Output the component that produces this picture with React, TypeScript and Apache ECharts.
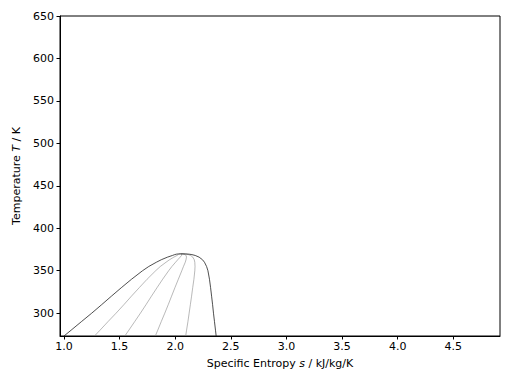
import React, { useEffect, useRef } from "react";
import * as echarts from "echarts";

// Saturation temperatures (K)
const temps = [273.15, 280, 290, 300, 310, 320, 330, 340, 350, 355, 360, 363, 366, 368, 369, 369.5, 369.8, 369.89];
// Saturated liquid entropy (kJ/kg/K)
const sLiquid = [1.0, 1.064, 1.156, 1.249, 1.338, 1.426, 1.515, 1.607, 1.706, 1.762, 1.83, 1.875, 1.93, 1.975, 1.995, 2.01, 2.03, 2.05];
// Saturated vapour entropy (kJ/kg/K)
const sVapour = [2.368, 2.362, 2.353, 2.344, 2.336, 2.327, 2.318, 2.308, 2.294, 2.282, 2.263, 2.245, 2.215, 2.18, 2.15, 2.125, 2.09, 2.05];
// Constant-quality lines
const sQ02 = [1.274, 1.324, 1.395, 1.468, 1.538, 1.606, 1.676, 1.747, 1.824, 1.866, 1.917, 1.949, 1.987, 2.016, 2.026, 2.033, 2.042, 2.05];
const sQ04 = [1.547, 1.583, 1.635, 1.687, 1.737, 1.786, 1.836, 1.887, 1.941, 1.97, 2.003, 2.023, 2.044, 2.057, 2.057, 2.056, 2.054, 2.05];
const sQ06 = [1.821, 1.843, 1.874, 1.906, 1.937, 1.967, 1.997, 2.028, 2.059, 2.074, 2.09, 2.097, 2.101, 2.098, 2.088, 2.079, 2.066, 2.05];
const sQ08 = [2.094, 2.102, 2.114, 2.125, 2.136, 2.147, 2.157, 2.168, 2.176, 2.178, 2.176, 2.171, 2.158, 2.139, 2.119, 2.102, 2.078, 2.05];

const xTicks = [1.0, 1.5, 2.0, 2.5, 3.0, 3.5, 4.0, 4.5];
const yTicks = [300, 350, 400, 450, 500, 550, 600, 650];

const pairs = (xs: number[]) => xs.map((s, i) => [s, temps[i]]);

export default function App() {
  const ref = useRef<HTMLDivElement>(null);
  useEffect(() => {
    if (!ref.current) return;
    const chart = echarts.init(ref.current, null, { renderer: "svg" });
    const font = "DejaVu Sans";
    const qualityStyle = { color: "#8a8a8a", width: 0.6 };
    const mk = (data: number[][], style: any) => ({
      type: "line",
      data,
      showSymbol: false,
      symbol: "none",
      lineStyle: style,
      silent: true,
      z: 2,
    });
    chart.setOption({
      animation: false,
      backgroundColor: "#ffffff",
      grid: {
        left: 60,
        right: 12,
        top: 16,
        bottom: 48,
        show: true,
        borderColor: "#000",
        borderWidth: 1,
        backgroundColor: "transparent",
      },
      xAxis: {
        type: "value",
        min: 0.964,
        max: 4.92,
        name: "Specific Entropy {i|s} / kJ/kg/K",
        nameLocation: "middle",
        nameGap: 22,
        nameTextStyle: {
          fontFamily: font,
          fontSize: 11,
          color: "#000",
          rich: { i: { fontStyle: "italic", fontFamily: font, fontSize: 11, color: "#000" } },
        },
        axisLine: { show: true, onZero: false, lineStyle: { color: "#000", width: 1 } },
        axisTick: { show: true, inside: false, length: 3.5, customValues: xTicks, lineStyle: { color: "#000" } },
        axisLabel: {
          show: true,
          customValues: xTicks,
          margin: 5,
          fontFamily: font,
          fontSize: 11,
          color: "#000",
          formatter: (v: number) => v.toFixed(1),
        },
        splitLine: { show: false },
      },
      yAxis: {
        type: "value",
        min: 273.15,
        max: 650,
        name: "Temperature {i|T} / K",
        nameLocation: "middle",
        nameGap: 37,
        nameRotate: 90,
        nameTextStyle: {
          fontFamily: font,
          fontSize: 11,
          color: "#000",
          rich: { i: { fontStyle: "italic", fontFamily: font, fontSize: 11, color: "#000" } },
        },
        axisLine: { show: true, onZero: false, lineStyle: { color: "#000", width: 1 } },
        axisTick: { show: true, inside: false, length: 3.5, customValues: yTicks, lineStyle: { color: "#000" } },
        axisLabel: {
          show: true,
          customValues: yTicks,
          margin: 6,
          fontFamily: font,
          fontSize: 11,
          color: "#000",
        },
        splitLine: { show: false },
      },
      series: [
        mk(pairs(sQ02), qualityStyle),
        mk(pairs(sQ04), qualityStyle),
        mk(pairs(sQ06), qualityStyle),
        mk(pairs(sQ08), qualityStyle),
        mk(pairs(sLiquid), { color: "#222", width: 0.8 }),
        mk(pairs(sVapour), { color: "#222", width: 0.8 }),
      ],
    });
    return () => chart.dispose();
  }, []);
  return (
    <div
      ref={ref}
      style={{ position: "fixed", left: 0, top: 0, width: 512, height: 384, background: "#fff" }}
    />
  );
}
